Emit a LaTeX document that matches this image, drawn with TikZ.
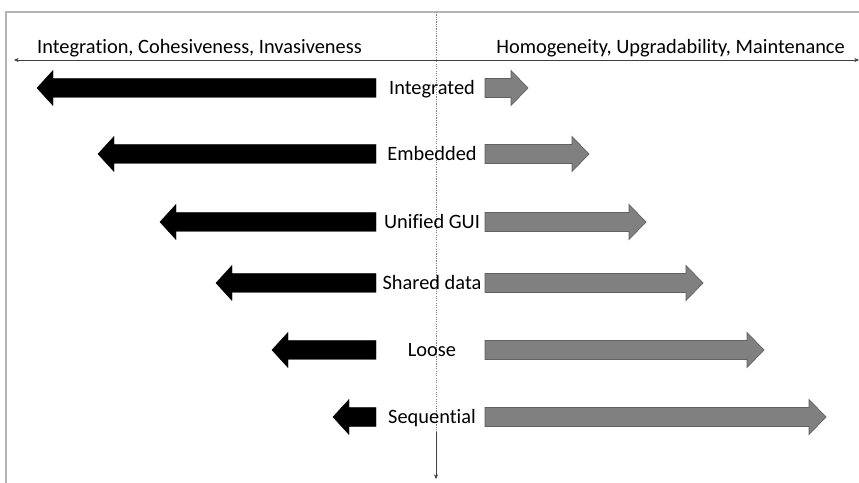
\documentclass[tikz,border=0pt]{standalone}
\usepackage{fontspec}
\setmainfont{Carlito}[Ligatures=NoCommon]
\usetikzlibrary{arrows.meta}
\definecolor{framegray}{HTML}{B4B4B4}
\definecolor{axisgray}{HTML}{404040}
\definecolor{barfill}{HTML}{808080}
\definecolor{barline}{HTML}{606060}

\begin{document}
\begin{tikzpicture}[>=Stealth,x=0.03cm,y=-0.03cm,
  lbl/.style={font=\fontsize{17.4}{20}\selectfont,inner sep=0pt,anchor=base},
  leftbar/.style={fill=black,draw=black,line width=0.4pt},
  rightbar/.style={fill=barfill,draw=barline,line width=0.6pt}]
\useasboundingbox (0,0) rectangle (859,483);
% frame
\draw[framegray,line width=1pt] (6,483) -- (6,12) -- (859,12);
% horizontal axis
\coordinate (axL) at (14,60);
\coordinate (axR) at (859,60);
\draw[axisgray,line width=0.5pt,{Stealth[length=4pt,width=3.5pt]}-{Stealth[length=4pt,width=3.5pt]}] (axL) -- (axR);
\node[lbl,anchor=base west] (leftgoal) at (37,54) {Integration, Cohesiveness, Invasiveness};
\node[lbl,anchor=base east] (rightgoal) at (845,54) {Homogeneity, Upgradability, Maintenance};
% vertical axis
\coordinate (vtop) at (436,12);
\coordinate (vmid) at (436,432);
\coordinate (vbot) at (436,479);
\draw[gray,line width=0.5pt,dash pattern=on 1pt off 1pt] (vtop) -- (vmid);
\draw[axisgray,line width=0.5pt,-{Stealth[length=4pt,width=3.5pt]}] (vmid) -- (vbot);
% levels
\foreach \i/\y/\name/\lt/\rt in {0/88/Integrated/37/528,1/154/Embedded/98/589,2/222/Unified GUI/160/646,
    3/283/Shared data/216/703,4/350/Loose/272/764,5/417/Sequential/333/826}{
  \node[lbl] (level\i) at (432,\y+7) {\name};
  \draw[leftbar] (376,\y-9.5) -- (\lt+16,\y-9.5) -- (\lt+16,\y-17.5) -- (\lt,\y)
    -- (\lt+16,\y+17.5) -- (\lt+16,\y+9.5) -- (376,\y+9.5) -- cycle;
  \draw[rightbar] (485,\y-9.5) -- (\rt-17,\y-9.5) -- (\rt-17,\y-17.5) -- (\rt,\y)
    -- (\rt-17,\y+17.5) -- (\rt-17,\y+9.5) -- (485,\y+9.5) -- cycle;
}
\end{tikzpicture}
\end{document}
